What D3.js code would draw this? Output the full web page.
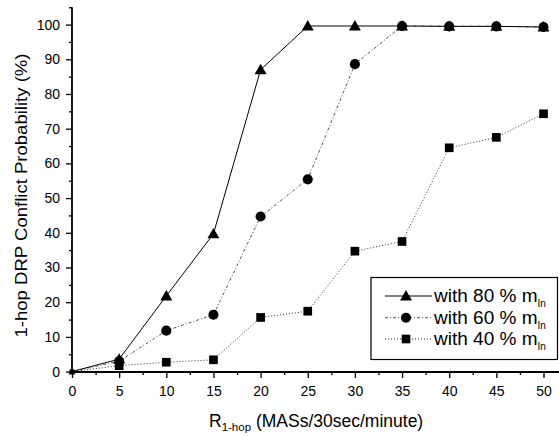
<!DOCTYPE html>
<html><head><meta charset="utf-8">
<script src="https://cdn.jsdelivr.net/npm/d3@7"></script>
<style>body{margin:0;background:#fff}svg{display:block}text{font-family:Arial,"Liberation Sans",sans-serif;fill:#000}</style>
</head><body>
<svg id="c" width="559" height="436"></svg>
<script>
const xValues = [0,5,10,15,20,25,30,35,40,45,50];
const s80 = [0,3.6,21.8,39.7,87,99.6,99.6,99.6,99.5,99.5,99.3];
const s60 = [0,3.0,11.8,16.4,44.7,55.4,88.6,99.6,99.5,99.5,99.3];
const s40 = [0,1.7,2.7,3.4,15.6,17.4,34.7,37.5,64.5,67.5,74.3];
const xTicks = [0,5,10,15,20,25,30,35,40,45,50];
const yTicks = [0,10,20,30,40,50,60,70,80,90,100];
const legendLabels = ["with 80 % m","with 60 % m","with 40 % m"];

const svg = d3.select("#c");
const x = d3.scaleLinear().domain([0,50]).range([72,543.5]);
const y = d3.scaleLinear().domain([0,100]).range([371.6,24.6]);

// axes
const yAxis = d3.axisLeft(y).tickValues(yTicks).tickSize(6).tickPadding(6);
const yMinor = d3.axisLeft(y).tickValues(d3.range(5,106,10)).tickSize(3).tickFormat("");
const xAxis = d3.axisBottom(x).tickValues(xTicks).tickSize(6).tickPadding(8);
const xMinor = d3.axisBottom(x).tickValues(d3.range(2.5,50,5)).tickSize(3).tickFormat("");

function styleAxis(g){
  g.select(".domain").remove();
  g.selectAll("line").attr("stroke","#000").attr("stroke-width",1.3);
  g.selectAll("text").style("font-size","14px").style("font-family","Arial, 'Liberation Sans', sans-serif").attr("fill","#000");
}
svg.append("g").attr("transform","translate(72,0)").call(yAxis).call(styleAxis);
svg.append("g").attr("transform","translate(72,0)").call(yMinor).call(styleAxis);
svg.append("g").attr("transform","translate(0,372)").call(xAxis).call(styleAxis);
svg.append("g").attr("transform","translate(0,372)").call(xMinor).call(styleAxis);

svg.append("line").attr("x1",72).attr("x2",72).attr("y1",y(105)).attr("y2",372.5).attr("stroke","#000").attr("stroke-width",1.8);
svg.append("line").attr("x1",71).attr("x2",559).attr("y1",372).attr("y2",372).attr("stroke","#000").attr("stroke-width",1.8);

// axis titles
svg.append("text").attr("transform","translate(27,195.5) rotate(-90)").attr("text-anchor","middle")
  .style("font-size","17px").attr("textLength",284).attr("lengthAdjust","spacingAndGlyphs")
  .text("1-hop DRP Conflict Probability (%)");
const xl = svg.append("text").attr("x",209).attr("y",427).style("font-size","17.5px");
xl.append("tspan").text("R");
xl.append("tspan").attr("dy",4).style("font-size","11.5px").text("1-hop");
xl.append("tspan").attr("dy",-4).text(" (MASs/30sec/minute)");

// series
const series = [
  {vals:s80, dash:null, color:"#000", shape:d3.symbolTriangle, size:62},
  {vals:s60, dash:"3,2,1,2", color:"#555", shape:d3.symbolCircle, size:80},
  {vals:s40, dash:"1,2", color:"#333", shape:d3.symbolSquare, size:75}
];
const line = d3.line().x((d,i)=>x(xValues[i])).y(d=>y(d));
[2,1,0].forEach(k=>{
  const s = series[k];
  svg.append("path").attr("d",line(s.vals)).attr("fill","none").attr("stroke",s.color).attr("stroke-width",1).attr("stroke-dasharray",s.dash);
});
[2,1,0].forEach(k=>{
  const s = series[k];
  const sym = d3.symbol().type(s.shape).size(s.size);
  svg.append("g").selectAll("path").data(s.vals).join("path")
    .attr("transform",(d,i)=>`translate(${x(xValues[i])},${y(d)+(k===0?1:0)})`)
    .attr("d",(d,i)=> i===0 ? d3.symbol().type(s.shape).size(20)() : sym())
    .attr("fill","#000");
});

// legend
const lg = svg.append("g");
lg.append("rect").attr("x",371).attr("y",277.5).attr("width",186.5).attr("height",82).attr("fill","#fff").attr("stroke","#000").attr("stroke-width",1.2);
const rowsY = [296,317.7,339];
series.forEach((s,k)=>{
  lg.append("line").attr("x1",385).attr("x2",432).attr("y1",rowsY[k]).attr("y2",rowsY[k]).attr("stroke",s.color).attr("stroke-width",1).attr("stroke-dasharray",s.dash);
  lg.append("path").attr("transform",`translate(406,${rowsY[k]+(k===0?1:0)})`).attr("d",d3.symbol().type(s.shape).size(s.size)()).attr("fill","#000");
  const t = lg.append("text").attr("x",434).attr("y",rowsY[k]+6).style("font-size","19px");
  t.append("tspan").text(legendLabels[k]);
  t.append("tspan").attr("dy",5).style("font-size","10px").text("In");
});
</script>
</body></html>
